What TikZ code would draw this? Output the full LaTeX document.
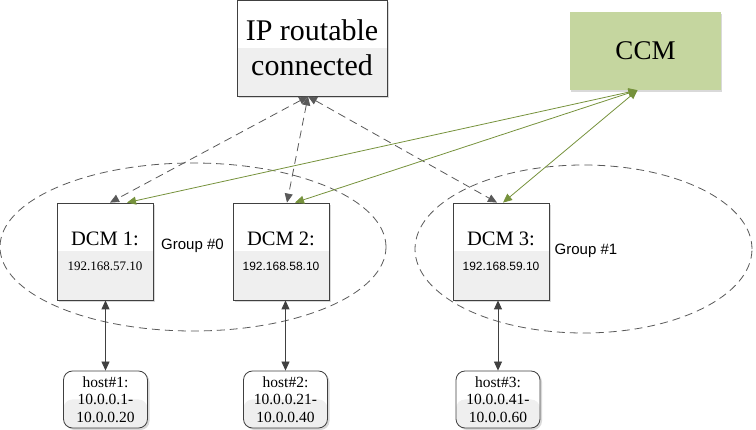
\documentclass[tikz,border=0pt]{standalone}
\usepackage{fontspec}
\setmainfont{Liberation Serif}
\newfontfamily\grpfont{Liberation Sans}
\usetikzlibrary{arrows.meta,shapes.geometric,shadows}

\definecolor{boxline}{HTML}{404040}
\definecolor{lowgray}{HTML}{EFEFEF}
\definecolor{ccmgreen}{HTML}{C5D69F}
\definecolor{linkgreen}{HTML}{76923C}
\definecolor{dashgray}{HTML}{595959}

\begin{document}
\begin{tikzpicture}[x=1pt,y=-1pt,
    twotone/.style={rectangle,draw=boxline,fill=white,line width=0.8pt,inner sep=0pt,align=center,
      drop shadow={shadow xshift=2pt,shadow yshift=-2pt,opacity=0.3},
      path picture={\fill[lowgray] (path picture bounding box.west) rectangle (path picture bounding box.south east);}},
    dcm/.style={twotone,minimum width=96pt,minimum height=97pt},
    host/.style={twotone,rounded corners=9pt,minimum width=84pt,minimum height=57pt,font=\fontsize{15.5}{17.5}\selectfont},
    group/.style={ellipse,draw=dashgray,dashed,dash pattern=on 8pt off 5pt,line width=0.8pt},
    dlink/.style={{Triangle[length=9pt,width=8pt]}-{Triangle[length=9pt,width=8pt]},dashgray,dash pattern=on 8pt off 5pt,line width=0.8pt},
    glink/.style={{Triangle[length=9pt,width=8pt]}-{Triangle[length=9pt,width=8pt]},linkgreen,line width=0.8pt},
    hlink/.style={{Triangle[length=9pt,width=8pt]}-{Triangle[length=9pt,width=8pt]},boxline,line width=0.8pt}
]
\useasboundingbox (0,0) rectangle (756,430);
% groups
\node[group,minimum width=386pt,minimum height=168pt] (grp0) at (193,247) {};
\node[group,minimum width=337pt,minimum height=168pt] (grp1) at (583.5,249) {};
\node[font=\grpfont\fontsize{15}{17}\selectfont] (grp0lbl) at (192.5,246) {Group \#0};
\node[font=\grpfont\fontsize{15}{17}\selectfont] (grp1lbl) at (586,251) {Group \#1};
% top boxes
\node[twotone,minimum width=150pt,minimum height=96pt,font=\fontsize{30}{35}\selectfont] (ip) at (312,48) {IP routable\\connected};
\node[rectangle,fill=ccmgreen,minimum width=151pt,minimum height=78pt,font=\fontsize{27}{30}\selectfont,
  drop shadow={shadow xshift=1pt,shadow yshift=-2pt,opacity=0.3}] (ccm) at (645.5,51) {CCM};
% dcm boxes
\node[dcm] (dcm1) at (105,251.5) {{\fontsize{20.5}{24}\selectfont DCM 1:}\\[13pt]{\fontsize{13}{15}\selectfont 192.168.57.10}};
\node[dcm] (dcm2) at (281,251.5) {{\fontsize{20.5}{24}\selectfont DCM 2:}\\[13pt]{\grpfont\fontsize{12}{15}\selectfont 192.168.58.10}};
\node[dcm] (dcm3) at (501,251.5) {{\fontsize{20.5}{24}\selectfont DCM 3:}\\[13pt]{\grpfont\fontsize{12}{15}\selectfont 192.168.59.10}};
% hosts
\node[host] (host1) at (105.5,399.5) {host\#1:\\10.0.0.1-\\10.0.0.20};
\node[host] (host2) at (285.5,399.5) {host\#2:\\10.0.0.21-\\10.0.0.40};
\node[host] (host3) at (498,399.5) {host\#3:\\10.0.0.41-\\10.0.0.60};
% links
\draw[dlink] ([xshift=-4pt]ip.south) -- ([xshift=5pt]dcm1.north);
\draw[dlink] ([xshift=-4pt]ip.south) -- ([xshift=6pt]dcm2.north);
\draw[dlink] ([xshift=-4pt]ip.south) -- ([xshift=-4pt]dcm3.north);
\draw[glink] ([xshift=-8pt]ccm.south) -- ([xshift=22pt]dcm1.north);
\draw[glink] ([xshift=-8pt]ccm.south) -- ([xshift=14pt]dcm2.north);
\draw[glink] ([xshift=-8pt]ccm.south) -- ([xshift=2pt]dcm3.north);
\draw[hlink] (host1.north |- dcm1.south) -- (host1.north);
\draw[hlink] (host2.north |- dcm2.south) -- (host2.north);
\draw[hlink] (host3.north |- dcm3.south) -- (host3.north);
\end{tikzpicture}
\end{document}
